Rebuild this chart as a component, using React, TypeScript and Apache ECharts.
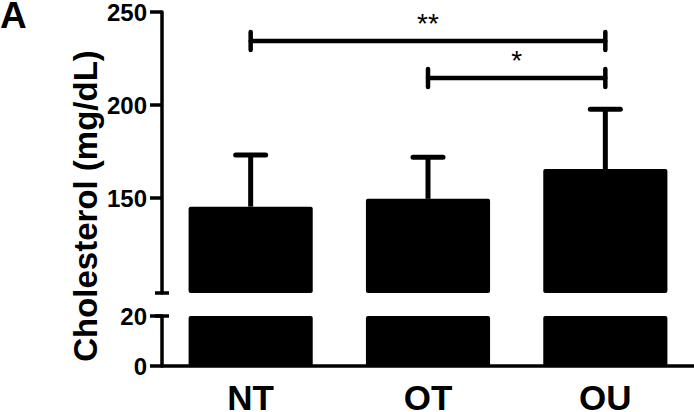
import React, { useEffect, useRef } from 'react';
import * as echarts from 'echarts';

const FONT = '"Liberation Sans", Arial, Helvetica, sans-serif';

// Data
const categories = ['NT', 'OT', 'OU'];
const means = [145.4, 149.6, 165.6];
const sd = [27.7, 22.4, 32.2];
const topTicks = [150, 200, 250];
const bottomTicks = [0, 20];
const compFrom = [0, 1];
const compTo = [2, 2];
const compLevel = [234.4, 214.5];
const compLabel = ['**', '*'];

export default function App() {
  const ref = useRef<HTMLDivElement>(null);
  useEffect(() => {
    document.body.style.margin = '0';
    const chart = echarts.init(ref.current!, null, { renderer: 'svg' });
    const axisLineStyle = { color: '#000', width: 3.5 };
    const yLabel = { color: '#000', fontSize: 24, fontWeight: 'bold', fontFamily: FONT, margin: 15 };
    const option: any = {
      animation: false,
      backgroundColor: '#fff',
      grid: [
        { left: 162, right: 0, top: 12, height: 281, containLabel: false, outerBoundsMode: 'none' },
        { left: 162, right: 0, top: 316, height: 50, containLabel: false, outerBoundsMode: 'none' },
      ],
      xAxis: [
        { gridIndex: 0, type: 'category', data: categories, show: false },
        {
          gridIndex: 1,
          type: 'category',
          data: categories,
          axisLine: { lineStyle: axisLineStyle },
          axisTick: { alignWithLabel: true, length: 11, lineStyle: axisLineStyle },
          axisLabel: { color: '#000', fontSize: 35, fontWeight: 'bold', fontFamily: FONT, margin: 14 },
        },
      ],
      yAxis: [
        {
          gridIndex: 0,
          type: 'value',
          min: 99,
          max: 250,
          splitLine: { show: false },
          axisLine: { show: true, lineStyle: axisLineStyle },
          axisTick: { show: true, length: 12, lineStyle: axisLineStyle, customValues: topTicks },
          axisLabel: { ...yLabel, customValues: topTicks },
        },
        {
          gridIndex: 1,
          type: 'value',
          min: 0,
          max: 20,
          interval: 20,
          splitLine: { show: false },
          axisLine: { show: true, lineStyle: axisLineStyle },
          axisTick: { show: true, length: 12, lineStyle: axisLineStyle, customValues: bottomTicks },
          axisLabel: { ...yLabel, customValues: bottomTicks },
        },
      ],
      series: [
        {
          type: 'bar',
          xAxisIndex: 0,
          yAxisIndex: 0,
          data: means,
          barWidth: '70%',
          clip: true,
          itemStyle: { color: '#000', borderRadius: 2 },
        },
        {
          type: 'bar',
          xAxisIndex: 1,
          yAxisIndex: 1,
          data: means,
          barWidth: '70%',
          clip: true,
          itemStyle: { color: '#000', borderRadius: 2 },
        },
        {
          type: 'custom',
          xAxisIndex: 0,
          yAxisIndex: 0,
          data: means.map((m, i) => [i, m, m + sd[i]]),
          encode: { x: 0, y: [1, 2] },
          renderItem: (params: any, api: any) => {
            const i = api.value(0);
            const base = api.coord([i, api.value(1)]);
            const top = api.coord([i, api.value(2)]);
            return {
              type: 'group',
              children: [
                { type: 'line', shape: { x1: base[0], y1: base[1], x2: top[0], y2: top[1] }, style: { stroke: '#000', lineWidth: 5 } },
                { type: 'line', shape: { x1: top[0] - 15, y1: top[1], x2: top[0] + 15, y2: top[1] }, style: { stroke: '#000', lineWidth: 5, lineCap: 'round' } },
              ],
            };
          },
        },
        {
          type: 'custom',
          xAxisIndex: 0,
          yAxisIndex: 0,
          data: compFrom.map((f, k) => [f, compTo[k], compLevel[k]]),
          encode: { x: [0, 1], y: 2 },
          renderItem: (params: any, api: any) => {
            const a = api.coord([api.value(0), api.value(2)]);
            const b = api.coord([api.value(1), api.value(2)]);
            const st = { stroke: '#000', lineWidth: 4.5, lineCap: 'round' };
            const label = compLabel[params.dataIndex];
            return {
              type: 'group',
              children: [
                { type: 'line', shape: { x1: a[0], y1: a[1], x2: b[0], y2: b[1] }, style: st },
                { type: 'line', shape: { x1: a[0], y1: a[1] - 9, x2: a[0], y2: a[1] + 9 }, style: st },
                { type: 'line', shape: { x1: b[0], y1: b[1] - 9, x2: b[0], y2: b[1] + 9 }, style: st },
                {
                  type: 'text',
                  style: {
                    text: label,
                    x: (a[0] + b[0]) / 2,
                    y: a[1] - 18,
                    align: 'center',
                    verticalAlign: 'middle',
                    textAlign: 'center',
                    textVerticalAlign: 'middle',
                    font: `28px ${FONT}`,
                    fill: '#000',
                  },
                },
              ],
            };
          },
        },
      ],
      graphic: [
        {
          type: 'text',
          x: 85,
          y: 206,
          rotation: Math.PI / 2,
          style: {
            text: 'Cholesterol (mg/dL)',
            align: 'center',
            verticalAlign: 'middle',
            textAlign: 'center',
            textVerticalAlign: 'middle',
            font: `bold 33px ${FONT}`,
            fill: '#000',
          },
        },
        {
          type: 'text',
          x: 0,
          y: 15,
          style: {
            text: 'A',
            align: 'left',
            verticalAlign: 'middle',
            textAlign: 'left',
            textVerticalAlign: 'middle',
            font: `bold 37px ${FONT}`,
            fill: '#000',
          },
        },
        { type: 'line', shape: { x1: 155, y1: 293, x2: 169, y2: 293 }, style: { stroke: '#000', lineWidth: 3.5 } },
        { type: 'line', shape: { x1: 155, y1: 316, x2: 169, y2: 316 }, style: { stroke: '#000', lineWidth: 3.5 } },
      ],
    };
    chart.setOption(option);
    return () => chart.dispose();
  }, []);
  return <div ref={ref} style={{ width: 694, height: 412 }} />;
}
